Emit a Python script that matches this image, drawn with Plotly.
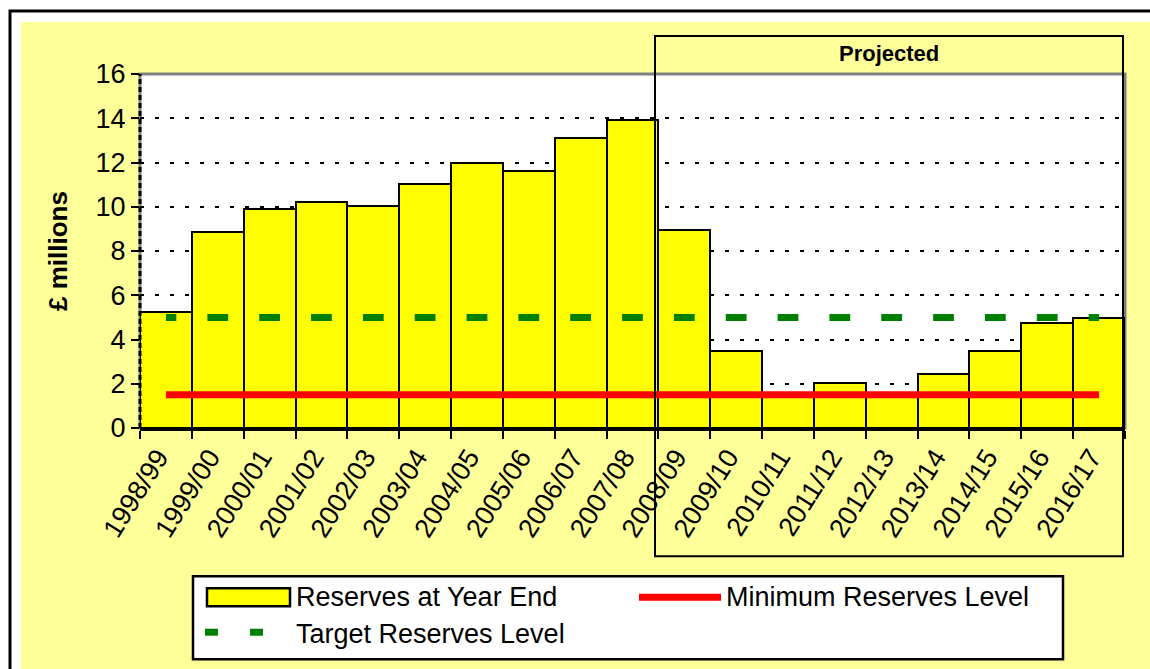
import plotly.graph_objects as go

years = ["1998/99", "1999/00", "2000/01", "2001/02", "2002/03", "2003/04", "2004/05",
         "2005/06", "2006/07", "2007/08", "2008/09", "2009/10", "2010/11", "2011/12",
         "2012/13", "2013/14", "2014/15", "2015/16", "2016/17"]
reserves = [5.25, 8.85, 9.88, 10.22, 10.03, 11.04, 12.0, 11.63, 13.1, 13.93,
            8.97, 3.5, 1.45, 2.02, 1.45, 2.42, 3.5, 4.73, 4.97]
minimum_level = [1.5] * len(years)
target_level = [5.0] * len(years)

y_ticks = [0, 2, 4, 6, 8, 10, 12, 14, 16]

W, H = 1150, 669
ML, MR, MT, MB = 140, 25, 74, 240.5
PW = W - ML - MR
PH = H - MT - MB


def px(x):
    return (x - ML) / PW


def py(y):
    return (H - MB - y) / PH


FONT = "Liberation Sans, Arial, sans-serif"

fig = go.Figure()
fig.add_trace(go.Bar(x=years, y=reserves, name="Reserves at Year End",
                     marker=dict(color="#FFFF00", line=dict(color="black", width=2))))
fig.add_trace(go.Scatter(x=years, y=target_level, mode="lines", name="Target Reserves Level",
                         line=dict(color="#008000", width=7, dash="10.4px,31.04px,10.4px,0px")))
fig.add_trace(go.Scatter(x=years, y=minimum_level, mode="lines", name="Minimum Reserves Level",
                         line=dict(color="#FF0000", width=7)))

shapes = []
# pale yellow chart area
shapes.append(dict(type="rect", xref="paper", yref="paper", x0=px(21), x1=px(1200), y0=py(22), y1=py(720),
                   fillcolor="#FFFF99", line=dict(width=0), layer="below"))
# white plot area with grey border
shapes.append(dict(type="rect", xref="paper", yref="paper", x0=0, x1=1, y0=0, y1=1,
                   fillcolor="white", line=dict(color="#808080", width=3), layer="below"))
# outer frame
shapes.append(dict(type="rect", xref="paper", yref="paper", x0=px(10), x1=px(1200), y0=py(11), y1=py(720),
                   fillcolor="rgba(0,0,0,0)", line=dict(color="black", width=3), layer="above"))
# dashed left axis
shapes.append(dict(type="line", xref="paper", yref="paper", x0=0, x1=0, y0=0, y1=1,
                   line=dict(color="black", width=3, dash="5px,3px"), layer="above"))
# projected box
shapes.append(dict(type="rect", xref="paper", yref="paper", x0=px(655), x1=px(1123), y0=py(557), y1=py(36),
                   fillcolor="rgba(0,0,0,0)", line=dict(color="black", width=2), layer="above"))
# legend box
shapes.append(dict(type="rect", xref="paper", yref="paper", x0=px(193), x1=px(1063), y0=py(660), y1=py(577),
                   fillcolor="white", line=dict(color="black", width=2.5), layer="above"))
# legend swatches
shapes.append(dict(type="rect", xref="paper", yref="paper", x0=px(207), x1=px(290), y0=py(607), y1=py(589),
                   fillcolor="#FFFF00", line=dict(color="black", width=2.5), layer="above"))
shapes.append(dict(type="line", xref="paper", yref="paper", x0=px(639), x1=px(721), y0=py(598), y1=py(598),
                   line=dict(color="#FF0000", width=7), layer="above"))
for a, b in [(205, 218), (250, 263)]:
    shapes.append(dict(type="rect", xref="paper", yref="paper", x0=px(a), x1=px(b), y0=py(636.5), y1=py(629.5),
                       fillcolor="#008000", line=dict(width=0), layer="above"))

annotations = [
    dict(text="<b>Projected</b>", xref="paper", yref="paper", x=px(889), y=py(53), showarrow=False,
         xanchor="center", yanchor="middle", font=dict(family=FONT, size=22, color="black")),
    dict(text="Reserves at Year End", xref="paper", yref="paper", x=px(294), y=py(598), showarrow=False,
         xanchor="left", yanchor="middle", font=dict(family=FONT, size=27, color="black")),
    dict(text="Minimum Reserves Level", xref="paper", yref="paper", x=px(724), y=py(598), showarrow=False,
         xanchor="left", yanchor="middle", font=dict(family=FONT, size=27, color="black")),
    dict(text="Target Reserves Level", xref="paper", yref="paper", x=px(294), y=py(635), showarrow=False,
         xanchor="left", yanchor="middle", font=dict(family=FONT, size=27, color="black")),
]

fig.update_layout(
    width=W, height=H,
    margin=dict(l=ML, r=MR, t=MT, b=MB, autoexpand=False),
    paper_bgcolor="white", plot_bgcolor="white",
    bargap=0, showlegend=False,
    font=dict(family=FONT, size=26, color="black"),
    shapes=shapes, annotations=annotations,
)
fig.update_xaxes(type="category", showline=True, linecolor="black", linewidth=2.5,
                 ticks="outside", tickson="boundaries", ticklen=8, tickwidth=2, tickcolor="black",
                 tickangle=-58, tickfont=dict(family=FONT, size=27, color="black"),
                 ticklabelshift=-8,
                 showgrid=False, zeroline=False)
fig.update_yaxes(range=[0, 16], tickvals=y_ticks, ticktext=[str(v) for v in y_ticks],
                 showgrid=True, gridcolor="black", gridwidth=2, griddash="4px,11px",
                 ticks="outside", ticklen=8, tickwidth=2, tickcolor="black",
                 showline=False, zeroline=False,
                 tickfont=dict(family=FONT, size=27, color="black"),
                 title=dict(text="<b>£ millions</b>", font=dict(family=FONT, size=26, color="black"),
                            standoff=20))

fig.write_html("out.html", config={"displayModeBar": False},
               post_script="document.body.style.margin='0';")
